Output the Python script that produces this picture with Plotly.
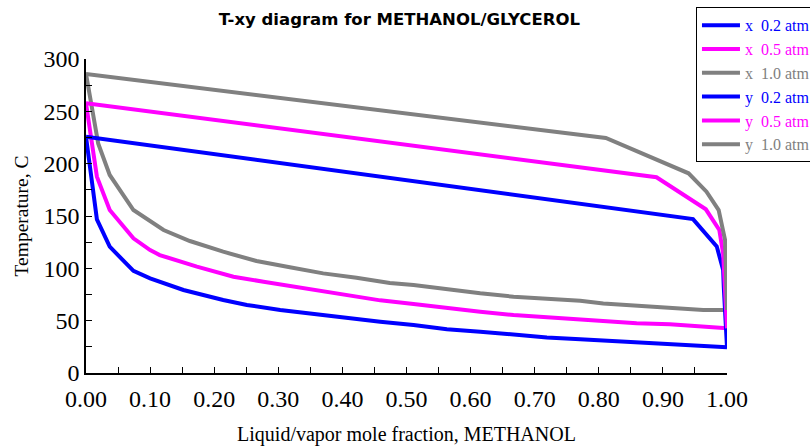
import plotly.graph_objects as go

# Bubble-point (liquid, x) curves: methanol mole fraction vs temperature, C
x_02 = [0.0, 0.017, 0.037, 0.074, 0.100, 0.152, 0.214, 0.251, 0.303, 0.355, 0.407,
        0.459, 0.511, 0.563, 0.615, 0.667, 0.719, 0.771, 0.807, 0.859, 0.911, 0.963, 1.0]
T_x_02 = [225.8, 146.8, 120.7, 97.5, 90.4, 79.3, 69.7, 65.0, 60.2, 56.4, 52.3,
          49.0, 45.9, 41.7, 39.5, 36.3, 34.0, 32.2, 30.9, 29.0, 26.8, 25.2, 24.5]

x_05 = [0.0, 0.017, 0.037, 0.074, 0.100, 0.115, 0.173, 0.230, 0.277, 0.355, 0.407,
        0.459, 0.511, 0.563, 0.615, 0.667, 0.719, 0.771, 0.807, 0.859, 0.911, 0.963, 1.0]
T_x_05 = [257.7, 187.6, 155.7, 128.7, 117.5, 112.7, 101.6, 92.0, 87.2, 79.3, 74.5,
          69.4, 65.9, 61.8, 58.6, 55.4, 53.2, 51.6, 49.7, 47.5, 46.5, 44.2, 42.7]

x_10 = [0.0, 0.019, 0.037, 0.074, 0.121, 0.162, 0.214, 0.266, 0.318, 0.370, 0.422,
        0.474, 0.511, 0.563, 0.615, 0.667, 0.719, 0.771, 0.807, 0.859, 0.911, 0.963, 1.0]
T_x_10 = [285.7, 219.4, 189.2, 155.7, 136.6, 126.1, 115.9, 107.0, 101.0, 95.2, 91.0,
          86.0, 84.1, 80.0, 76.1, 72.9, 70.7, 69.1, 66.5, 64.3, 61.8, 60.2, 60.2]

# Dew-point (vapor, y) curves
y_02 = [0.0, 0.947, 0.984, 0.994, 0.995, 1.0]
T_y_02 = [225.8, 147.0, 121.0, 98.4, 82.0, 24.5]

y_05 = [0.0, 0.890, 0.967, 0.988, 0.994, 1.0]
T_y_05 = [257.7, 187.0, 156.4, 136.6, 114.0, 42.7]

y_10 = [0.0, 0.811, 0.940, 0.968, 0.987, 0.997, 1.0]
T_y_10 = [285.7, 224.5, 190.8, 173.2, 155.7, 127.0, 60.2]

series = [
    ("x", "0.2", x_02, T_x_02, "#0000ff"),
    ("x", "0.5", x_05, T_x_05, "#ff00ff"),
    ("x", "1.0", x_10, T_x_10, "#808080"),
    ("y", "0.2", y_02, T_y_02, "#0000ff"),
    ("y", "0.5", y_05, T_y_05, "#ff00ff"),
    ("y", "1.0", y_10, T_y_10, "#808080"),
]

fig = go.Figure()
for i, (kind, p, xs, ts, color) in enumerate(series):
    label = f"<span style='color:{color}'>{kind}\u00a0\u00a0{p} atm</span>"
    fig.add_trace(go.Scatter(
        x=xs, y=ts, mode="lines", name=label, legendgroup=f"g{i}",
        line=dict(color=color, width=4),
    ))

serif = "Liberation Serif, Times New Roman, serif"

fig.update_layout(
    width=810, height=448,
    margin=dict(l=86, r=83, t=59, b=75, autoexpand=False),
    paper_bgcolor="white", plot_bgcolor="white",
    title=dict(text="<b>T-xy diagram for METHANOL/GLYCEROL</b>",
               font=dict(family="DejaVu Sans", size=16.5, color="black"),
               x=0.493, xref="container", xanchor="center",
               y=1 - 19 / 448, yref="container", yanchor="middle"),
    showlegend=True,
    legend=dict(x=0.9516, y=1.1646, xanchor="left", yanchor="top",
                bordercolor="black", borderwidth=1, bgcolor="white",
                font=dict(family=serif, size=16),
                tracegroupgap=0, itemwidth=38),
    xaxis=dict(range=[0, 1], dtick=0.1, tick0=0, tickformat=".2f",
               showgrid=False, zeroline=False,
               showline=True, linecolor="black", linewidth=1.5,
               ticks="inside", ticklen=6, tickcolor="black", tickwidth=1.2,
               minor=dict(dtick=0.05, ticks="inside", ticklen=6, tickcolor="black", tickwidth=1.2),
               tickfont=dict(family=serif, size=24, color="black"),
               ticklabelstandoff=3,
               title=dict(text="Liquid/vapor mole fraction, METHANOL",
                          font=dict(family=serif, size=20, color="black"), standoff=16)),
    yaxis=dict(range=[0, 300], dtick=50, tick0=0,
               showgrid=False, zeroline=False,
               showline=True, linecolor="black", linewidth=1.5,
               ticks="inside", ticklen=6, tickcolor="black", tickwidth=1.2,
               minor=dict(dtick=25, ticks="inside", ticklen=6, tickcolor="black", tickwidth=1.2),
               tickfont=dict(family=serif, size=24, color="black"),
               title=dict(text="Temperature, C",
                          font=dict(family=serif, size=19.5, color="black"), standoff=10)),
)

fig.write_html("out.html")
